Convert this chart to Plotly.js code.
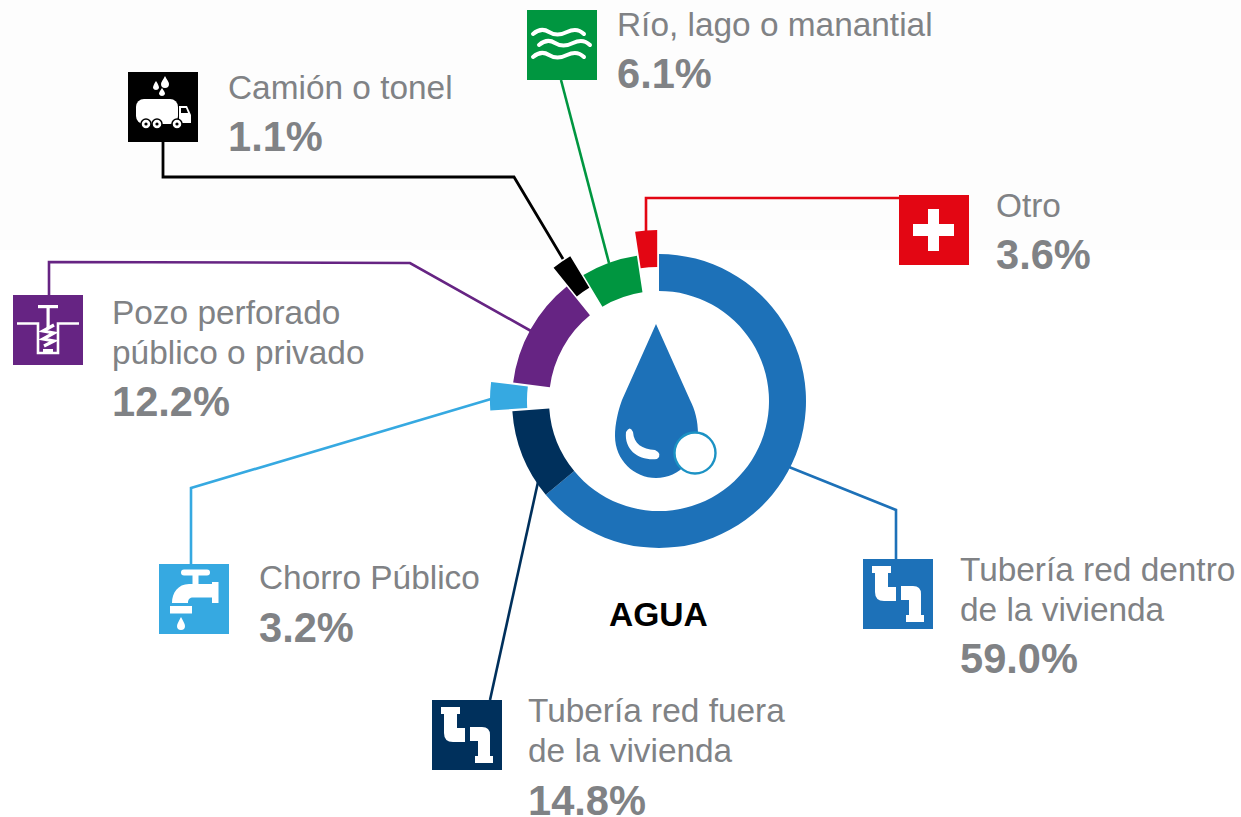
<!DOCTYPE html>
<html>
<head>
<meta charset="utf-8">
<script src="https://cdn.plot.ly/plotly-3.0.1.min.js"></script>
<style>html,body{margin:0;padding:0;background:#fff;overflow:hidden}#chart{width:1241px;height:817px}</style>
</head>
<body>
<div id="chart"></div>
<script>
// ---- data ----
const categories = ["Tubería red dentro de la vivienda","Tubería red fuera de la vivienda","Chorro Público","Pozo perforado público o privado","Camión o tonel","Río, lago o manantial","Otro"];
const printedPercent = [59.0, 14.8, 3.2, 12.2, 1.1, 6.1, 3.6];
// share of the ring that each slice occupies in the picture (differs from the printed figures)
const ringShare = [64.0, 9.9, 3.1, 12.2, 2.2, 6.2, 2.4];
const chartTitle = "AGUA";

// ---- styles and positions ----
const W = 1241, H = 817;
const colors = ["#1d71b8","#00305c","#36a9e1","#662483","#000000","#009640","#e30613"];
const pulls = [0, 0, 0.15, 0, 0.156, 0, 0.163];
const cx = 659, cy = 401, outerR = 147, innerR = 110, maxPull = 0.163;
const box = outerR * (1 + maxPull);
const gray = "#808285";
const px = x => x / W, py = y => 1 - y / H;

const textLayout = [
  {x: 959.5, lines: ["Tubería red dentro","de la vivienda"], base: [582, 622], pctBase: 674},
  {x: 527.5, lines: ["Tubería red fuera","de la vivienda"], base: [723, 763], pctBase: 815.5},
  {x: 258.5, lines: ["Chorro Público"], base: [590], pctBase: 642.5},
  {x: 111.5, lines: ["Pozo perforado","público o privado"], base: [325, 365], pctBase: 416.5},
  {x: 227.5, lines: ["Camión o tonel"], base: [100], pctBase: 152},
  {x: 617, lines: ["Río, lago o manantial"], base: [37], pctBase: 89},
  {x: 996, lines: ["Otro"], base: [218], pctBase: 270}
];
const connectors = [
  [[789,467],[896,510],[896,559]],
  [[490,700],[538,482]],
  [[191,564],[191,488],[491,399]],
  [[49,295],[49,262],[410,263],[531,331]],
  [[163,142],[163,177],[514,177],[563,259]],
  [[561,80],[609,263]],
  [[646,232],[646,198],[899,198]]
];
const lineWidths = [2.6, 2.6, 2.6, 2.6, 2.8, 2.6, 2.6];
const iconBoxes = [[863,559],[432,700],[159,564],[13,295],[128,72],[527,10],[899,195]];

const pipe = '<path fill="#fff" d="M9,7H28V14H25V28H33V42H21Q12,42 12,33V14H9Z"/><path fill="#fff" d="M38,27H50Q58,27 58,35V56H61V63H43V56H46V41H38Z"/>';
const icons = [
  pipe, pipe,
  '<rect x="22" y="5.5" width="29" height="6" rx="3" fill="#fff"/><rect x="33.5" y="10" width="6" height="12" fill="#fff"/><path fill="#fff" d="M53,20H30C19,20 13,29 13,39H29C29,35 31,33.5 34,33.5H53Z"/><rect x="53" y="18" width="6.5" height="21" fill="#fff"/><rect x="11" y="42" width="22" height="7.5" fill="#fff"/><path fill="#fff" d="M22,53C24,57 26,60 26,62A4,4 0 0 1 18,62C18,60 20,57 22,53Z"/>',
  '<path fill="none" stroke="#fff" stroke-width="2.6" d="M4,28.5H25V58H45V28.5H66"/><rect x="25" y="10" width="20" height="3.2" fill="#fff"/><rect x="33.5" y="10" width="3.2" height="24" fill="#fff"/><rect x="30" y="54" width="10" height="3" fill="#fff"/><path fill="none" stroke="#fff" stroke-width="3.2" d="M41,30L30,36L41,38L30,44L41,46L31,51"/>',
  '<path fill="#fff" d="M37,4C39,8 41,10 41,12A4,4 0 0 1 33,12C33,10 35,8 37,4ZM28,9C30,12 31,14 31,16A3.2,3.2 0 0 1 25,16C25,14 26,12 28,9ZM34,16C36,19 37,20 37,22A3.2,3.2 0 0 1 31,22C31,20 32,19 34,16Z"/><rect x="8" y="27" width="42" height="25" rx="8" fill="#fff"/><path fill="#fff" d="M51,34H59L63,43V51H51Z"/><path fill="#000" d="M53,36H58L60,41H53Z"/><g fill="#fff" stroke="#000" stroke-width="1.5"><circle cx="18" cy="52" r="5"/><circle cx="29" cy="52" r="5"/><circle cx="49" cy="52" r="5"/></g><circle cx="18" cy="52" r="1.6"/><circle cx="29" cy="52" r="1.6"/><circle cx="49" cy="52" r="1.6"/>',
  '<g fill="none" stroke="#fff" stroke-width="4" stroke-linecap="round"><path d="M6,24Q14,17 22,22T40,22T57,24"/><path d="M12,35Q20,28 28,33T46,33T63,35"/><path d="M6,47Q14,40 22,45T40,45T57,47"/></g>',
  '<rect x="14" y="29" width="41" height="12" fill="#fff"/><rect x="29" y="14" width="11" height="42" fill="#fff"/>'
];
const svgUri = (w, h, body) => "data:image/svg+xml;charset=utf-8," + encodeURIComponent(
  `<svg xmlns="http://www.w3.org/2000/svg" width="${w}" height="${h}" viewBox="0 0 ${w} ${h}">${body}</svg>`);

const images = iconBoxes.map((b, i) => ({
  source: svgUri(70, 70, `<rect width="70" height="70" fill="${colors[i]}"/>${icons[i]}`),
  xref: "paper", yref: "paper", x: px(b[0]), y: py(b[1]), sizex: 70 / W, sizey: 70 / H,
  xanchor: "left", yanchor: "top", sizing: "stretch", layer: "above"
}));
// central drop, 110x160 box starting at page position (610,320)
const drop = `<g transform="translate(-610,-320)"><path fill="#1d71b8" d="M656,324L622,400C618,411 615,424 615,436C615,460 634,478 656,478C680,478 698,457 698,435C698,420 695,410 690,400Z"/><path fill="#fff" d="M626,432Q630,425 633,432C634,444 642,449 655,450Q663,454 657,459C640,461 624,451 626,432Z"/><circle cx="695" cy="453" r="20.5" fill="#fff" stroke="#1c92c4" stroke-width="2.4"/></g>`;
images.push({source: svgUri(110, 160, drop), xref: "paper", yref: "paper", x: px(610), y: py(320),
  sizex: 110 / W, sizey: 160 / H, xanchor: "left", yanchor: "top", sizing: "stretch", layer: "above"});

const shapes = connectors.map((pts, i) => ({
  type: "path", xref: "paper", yref: "paper", layer: "below",
  path: pts.map((p, j) => (j ? "L" : "M") + px(p[0]) + "," + py(p[1])).join(" "),
  line: {color: colors[i], width: lineWidths[i]}, fillcolor: "rgba(0,0,0,0)"
}));
shapes.unshift({type: "rect", xref: "paper", yref: "paper", layer: "below", x0: 0, x1: 1, y0: py(250), y1: 1,
  fillcolor: "#fdfdfd", line: {width: 0}});

// annotation anchored by its text baseline
const FONT = "'Liberation Sans', Arial, sans-serif";
function lineText(text, x, base, size, bold, color, anchor) {
  return {
    xref: "paper", yref: "paper", x: px(x), y: py(base + size * 0.3 - 4), xanchor: anchor || "left", yanchor: "bottom",
    text: bold ? "<b>" + text + "</b>" : text, showarrow: false, borderpad: 0, borderwidth: 0,
    font: {family: FONT, size: size, color: color}
  };
}
const annotations = [];
textLayout.forEach((t, i) => {
  t.lines.forEach((l, k) => annotations.push(lineText(l, t.x, t.base[k], 33.4, false, gray)));
  annotations.push(lineText(printedPercent[i].toFixed(1) + "%", t.x, t.pctBase, 41.6, true, gray));
});
annotations.push(lineText(chartTitle, 658, 627, 33.6, true, "#000000", "center"));

const pie = {
  type: "pie", labels: categories, values: ringShare, sort: false, direction: "clockwise", rotation: 0,
  hole: innerR / outerR, pull: pulls, textinfo: "none", hoverinfo: "none", showlegend: false,
  marker: {colors: colors, line: {width: 0}},
  domain: {x: [px(cx - box), px(cx + box)], y: [py(cy + box), py(cy - box)]}
};
Plotly.newPlot("chart", [pie], {
  width: W, height: H, margin: {l: 0, r: 0, t: 0, b: 0}, paper_bgcolor: "#ffffff", plot_bgcolor: "rgba(0,0,0,0)",
  showlegend: false, shapes: shapes, images: images, annotations: annotations
}, {displayModeBar: false, staticPlot: true});
</script>
</body>
</html>
